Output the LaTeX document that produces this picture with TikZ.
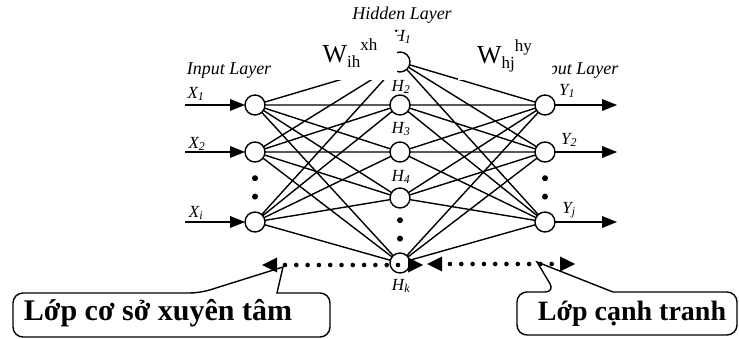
\documentclass[tikz,border=0pt]{standalone}
\usepackage{fontspec}
\setmainfont{Liberation Serif}
\usetikzlibrary{arrows.meta, positioning}

\newcommand{\weightlabel}[3]{#1\raisebox{-5pt}{\fontsize{17}{17}\selectfont #2}\raisebox{12pt}{\fontsize{17}{17}\selectfont #3}}

\begin{document}
\begin{tikzpicture}[x=1pt, y=-1pt, neuron/.style={
        circle,
        draw=black,
        fill=white,
        line width=1.4pt,
        minimum size=20pt,
        inner sep=0pt,
        outer sep=0pt
    }, dot/.style={
        circle,
        fill=black,
        minimum size=6pt,
        inner sep=0pt
    }, tag/.style={
        font=\fontsize{17}{17}\selectfont\itshape,
        inner sep=0pt
    }, layer/.style={
        font=\fontsize{18}{18}\selectfont\itshape,
        anchor=base,
        inner sep=0pt
    }, weight/.style={
        rectangle,
        fill=white,
        minimum width=94pt,
        minimum height=48pt,
        inner sep=0pt,
        text height=20pt,
        text depth=6pt,
        font=\fontsize{26}{26}\selectfont
    }, link/.style={
        line width=1.4pt
    }, arrow/.style={
        line width=1.4pt, -{Triangle[length=15pt, width=12pt, line width=0pt]}
    }, dotarrow/.style={
        line width=4.6pt, line cap=round, dash pattern=on 0pt off 11.3pt, dash phase=3.3pt,
        {Triangle[length=15pt, width=15pt, line width=0pt]}-{Triangle[length=15pt, width=15pt, line width=0pt]}
    }, callout/.style={
        line width=1.4pt
    }, boxtext/.style={
        font=\fontsize{30}{30}\selectfont\bfseries,
        anchor=base,
        inner sep=0pt
    }]
    \useasboundingbox (0,0) rectangle (739,339);

    % neurons
    \node (x1) [neuron] at (255,105) {};
    \node (x2) [neuron, below=27pt of x1] {};
    \node (x3) [neuron, below=50pt of x2] {};
    \node (h2) [neuron, right=125pt of x1] {};
    \node (h1) [neuron, above=23pt of h2] {};
    \node (h3) [neuron, below=27pt of h2] {};
    \node (h4) [neuron, below=26pt of h3] {};
    \node (hk) [neuron, below=45pt of h4] {};
    \node (y1) [neuron, right=125pt of h2] {};
    \node (y2) [neuron, below=27pt of y1] {};
    \node (y3) [neuron, below=50pt of y2] {};

    % vertical dots
    \node (xd1) [dot, below=13pt of x2] {};
    \node (xd2) [dot, below=12pt of xd1] {};
    \node (hd1) [dot, below=9pt of h4] {};
    \node (hd2) [dot, below=12pt of hd1] {};
    \node (yd1) [dot, below=13pt of y2] {};
    \node (yd2) [dot, below=12pt of yd1] {};

    % texts
    \node (inlayer) [layer] at (229,75) {Input Layer};
    \node (hidlayer) [layer] at (402,20) {Hidden Layer};
    \node (outlayer) [layer] at (570,75) {Output Layer};
    \node (lx1) [tag] at (196,94) {X\textsubscript{1}};
    \node (lx2) [tag] at (197,144) {X\textsubscript{2}};
    \node (lx3) [tag] at (196,213) {X\textsubscript{i}};
    \node (lh1) [tag] at (402,37) {H\textsubscript{1}};
    \node (lh2) [tag] at (401,87) {H\textsubscript{2}};
    \node (lh3) [tag] at (401,129) {H\textsubscript{3}};
    \node (lh4) [tag] at (401,177) {H\textsubscript{4}};
    \node (lhk) [tag] at (401,286) {H\textsubscript{k}};
    \node (ly1) [tag] at (567,91) {Y\textsubscript{1}};
    \node (ly2) [tag] at (569,140) {Y\textsubscript{2}};
    \node (ly3) [tag] at (569,210) {Y\textsubscript{j}};

    % connections
    \draw [link] (x1) -- (h1) (x1) -- (h2) (x1) -- (h3) (x1) -- (h4) (x1) -- (hk);
    \draw [link] (x2) -- (h1) (x2) -- (h2) (x2) -- (h3) (x2) -- (h4) (x2) -- (hk);
    \draw [link] (x3) -- (h1) (x3) -- (h2) (x3) -- (h3) (x3) -- (h4) (x3) -- (hk);
    \draw [link] (h1) -- (y1) (h1) -- (y2) (h1) -- (y3);
    \draw [link] (h2) -- (y1) (h2) -- (y2) (h2) -- (y3);
    \draw [link] (h3) -- (y1) (h3) -- (y2) (h3) -- (y3);
    \draw [link] (h4) -- (y1) (h4) -- (y2) (h4) -- (y3);
    \draw [link] (hk) -- (y1) (hk) -- (y2) (hk) -- (y3);

    % inputs and outputs
    \coordinate (xin1) at (185,105);
    \coordinate (xin2) at (185,152);
    \coordinate (xin3) at (185,222);
    \coordinate (yout1) at (617,105);
    \coordinate (yout2) at (617,152);
    \coordinate (yout3) at (617,222);
    \draw [arrow] (xin1) -- (x1);
    \draw [arrow] (xin2) -- (x2);
    \draw [arrow] (xin3) -- (x3);
    \draw [arrow] (y1) -- (yout1);
    \draw [arrow] (y2) -- (yout2);
    \draw [arrow] (y3) -- (yout3);

    % weights
    \node (wxh) [weight] at (350,56) {\weightlabel{W}{ih}{xh}};
    \node (why) [weight] at (504.5,56.5) {\weightlabel{W}{hj}{hy}};

    % layer spans
    \coordinate (rbfl) at (262,265);
    \coordinate (rbfr) at (423,265);
    \coordinate (compl) at (427,264);
    \coordinate (compr) at (575,264);
    \draw [dotarrow] (rbfl) -- (rbfr);
    \draw [dotarrow] (compl) -- (compr);

    % callouts
    \draw [callout] (277,293) [rounded corners=10pt] -- (330,293) -- (330,337) -- (13,337) -- (13,293) -- (200,293) [sharp corners] -- (283,267) -- cycle;
    \draw [callout] (613,292) [rounded corners=10pt] -- (737,292) -- (737,335) -- (517,335) -- (517,292) -- (555,292) [sharp corners] -- (537,262) -- cycle;
    \node (rbf) [boxtext] at (158,320) {Lớp cơ sở xuyên tâm};
    \node (comp) [boxtext, font=\fontsize{28}{28}\selectfont\bfseries] at (632,320) {Lớp cạnh tranh};

\end{tikzpicture}
\end{document}
